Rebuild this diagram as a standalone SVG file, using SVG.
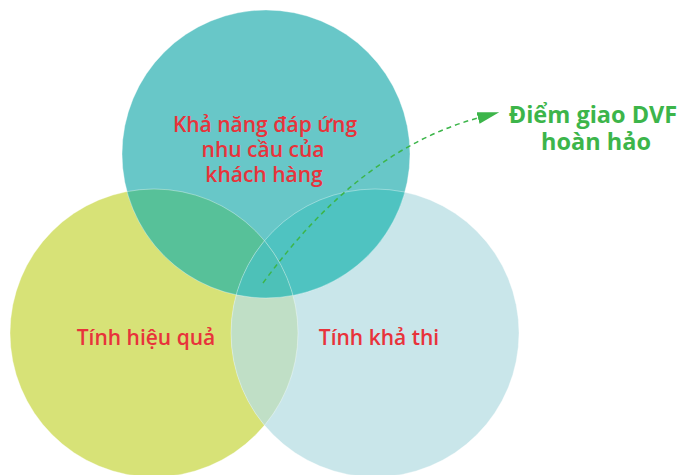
<svg xmlns="http://www.w3.org/2000/svg" width="683" height="475" viewBox="0 0 683 475">
<defs>
<style>
.lbl{font-family:"Open Sans","Noto Sans","Liberation Sans",sans-serif;font-weight:600;font-size:21px;fill:#e8333b;text-anchor:middle}
.g{font-family:"Open Sans","Noto Sans","Liberation Sans",sans-serif;font-weight:700;font-size:23.5px;fill:#3cb54a;text-anchor:middle}
.edge{fill:none;stroke:#ffffff;stroke-opacity:0.45;stroke-width:0.8}
</style>
<marker id="ah" viewBox="0 0 22 12" refX="0" refY="6" markerWidth="22" markerHeight="12" markerUnits="userSpaceOnUse" orient="auto">
<path d="M0,0 L22,6 L0,12 Z" fill="#3cb54a"/>
</marker>
</defs>
<rect width="683" height="475" fill="#ffffff"/>
<g id="left-circle">
<circle cx="154" cy="333" r="144" fill="#d7e277"/>
</g>
<g id="right-circle">
<circle cx="375" cy="333" r="144" fill="#c9e6ea"/>
</g>
<g id="top-circle">
<circle cx="266" cy="154" r="144" fill="#68c7c8"/>
</g>
<g id="overlaps">
<path d="M126.98,191.56 A144,144 0 0 1 293.0,295.4 A144,144 0 0 1 126.98,191.56 Z" fill="#57c199"/>
<path d="M236.14,294.87 A144,144 0 0 1 404.86,192.13 A144,144 0 0 1 236.14,294.87 Z" fill="#4fc3c1"/>
<path d="M264.5,240.67 A144,144 0 0 1 264.5,425.33 A144,144 0 0 1 264.5,240.67 Z" fill="#c0dfc6"/>
<path d="M264.5,240.67 A144,144 0 0 1 293.0,295.4 A144,144 0 0 1 236.14,294.87 A144,144 0 0 1 264.5,240.67 Z" fill="#4dc1b8"/>
<circle class="edge" cx="154" cy="333" r="144"/>
<circle class="edge" cx="375" cy="333" r="144"/>
<circle class="edge" cx="266" cy="154" r="144"/>
</g>
<g id="connectors">
<path d="M263,283 Q360,150 478,118" fill="none" stroke="#3cb54a" stroke-width="1.5" stroke-dasharray="5,4" marker-end="url(#ah)"/>
</g>
<g id="label-top">
<text class="lbl" x="265" y="132">Khả năng đáp ứng</text>
<text class="lbl" x="263" y="157">nhu cầu của</text>
<text class="lbl" x="264" y="182">khách hàng</text>
</g>
<g id="label-left">
<text class="lbl" x="146" y="345">Tính hiệu quả</text>
</g>
<g id="label-right">
<text class="lbl" x="379" y="345">Tính khả thi</text>
</g>
<g id="label-dvf">
<text class="g" x="593" y="123">Điểm giao DVF</text>
<text class="g" x="596" y="150">hoàn hảo</text>
</g>
</svg>
